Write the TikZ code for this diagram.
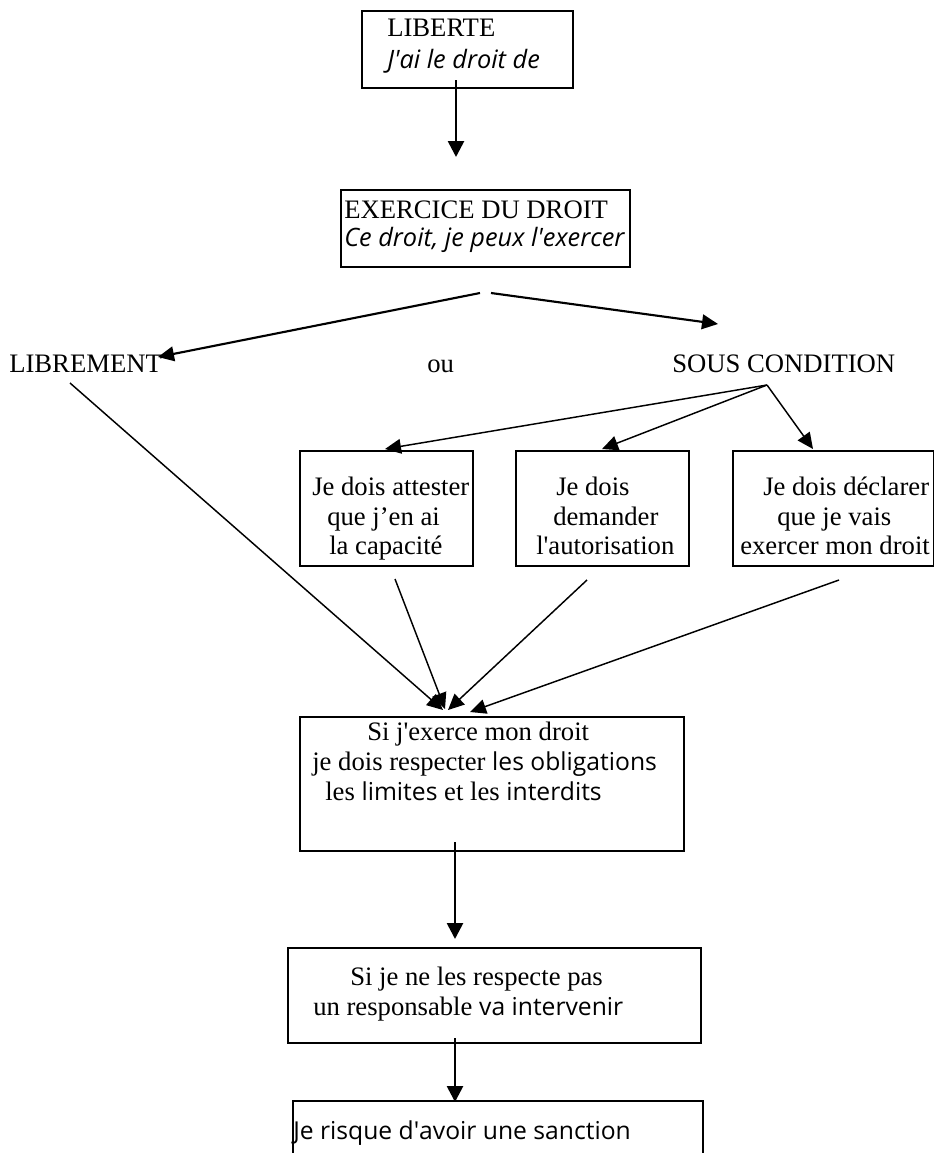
\documentclass[tikz,border=0pt]{standalone}
\usepackage{fontspec}
\setmainfont{Liberation Serif}
\newfontfamily\thinsans{Open Sans}
\usetikzlibrary{arrows.meta}
\tikzset{
  box/.style={draw=black, line width=1.5pt, anchor=north west, inner sep=0pt},
  txt/.style={anchor=base west, inner sep=0pt, font=\fontsize{20}{22}\selectfont},
  thick arrow/.style={line width=2pt, -{Triangle[length=12pt,width=12pt]}},
  mid arrow/.style={line width=1.6pt, -{Triangle[length=12pt,width=11pt]}},
  thin arrow/.style={line width=1.1pt, -{Triangle[length=12pt,width=11pt]}},
}
\newcommand{\lt}[1]{{\thinsans\fontsize{18.5}{22}\selectfont #1}}
\newcommand{\lit}[1]{{\thinsans\itshape\fontsize{19}{22}\selectfont #1}}
\newcommand{\sq}{\textquotesingle}
\begin{document}
\begin{tikzpicture}[x=0.75pt,y=-0.75pt]
\useasboundingbox (0,0) rectangle (934,1153);
% boxes
\node[box, minimum width=211*0.75pt, minimum height=77*0.75pt] (b1) at (361,10) {};
\node[box, minimum width=289*0.75pt, minimum height=77*0.75pt] (b2) at (340,189) {};
\node[box, minimum width=173*0.75pt, minimum height=115*0.75pt] (bA) at (299,450) {};
\node[box, minimum width=173*0.75pt, minimum height=115*0.75pt] (bB) at (515,450) {};
\node[box, minimum width=201*0.75pt, minimum height=115*0.75pt] (bC) at (732,450) {};
\node[box, minimum width=384*0.75pt, minimum height=134*0.75pt] (bD) at (299,716) {};
\node[box, minimum width=413*0.75pt, minimum height=95*0.75pt] (bE) at (287,947) {};
\node[box, minimum width=410*0.75pt, minimum height=80*0.75pt] (bF) at (292,1100) {};
% texts
\node[txt] (t1a) at (387,36) {LIBERTE};
\node[txt] (t1b) at (387,68) {\lit{J\sq ai le droit de}};
\node[txt] (t2a) at (344,218) {EXERCICE DU DROIT};
\node[txt] (t2b) at (344,246) {\lit{Ce droit, je peux l\sq exercer}};
\node[txt] (lib) at (9,372) {LIBREMENT};
\node[txt] (ou) at (427,372) {ou};
\node[txt] (sc) at (672,372) {SOUS CONDITION};
\node[txt] (tA1) at (312,495) {Je dois attester};
\node[txt] (tA2) at (327,525) {que j’en ai};
\node[txt] (tA3) at (329,554) {la capacité};
\node[txt] (tB1) at (556,495) {Je dois};
\node[txt] (tB2) at (553,525) {demander};
\node[txt] (tB3) at (536,554) {l\sq autorisation};
\node[txt] (tC1) at (763,495) {Je dois déclarer};
\node[txt] (tC2) at (777,525) {que je vais};
\node[txt] (tC3) at (740,554) {exercer mon droit};
\node[txt] (tD1) at (367,740) {Si j\sq exerce mon droit};
\node[txt] (tD2) at (312,770) {je dois respecter \lt{les obligations}};
\node[txt] (tD3) at (325,800) {les \lt{limites} et les \lt{interdits}};
\node[txt] (tE1) at (350,985) {Si je ne les respecte pas};
\node[txt] (tE2) at (313,1015) {un responsable \lt{va intervenir}};
\node[txt] (tF1) at (293,1139) {\lt{Je risque d\sq avoir une sanction}};
% connector end points
\coordinate (a1s) at (456,80);   \coordinate (a1e) at (456,157);
\coordinate (ls) at (480,293);   \coordinate (le) at (158,357);
\coordinate (rs) at (491,293);   \coordinate (re) at (718,324);
\coordinate (apex) at (767,385);
\coordinate (tipA) at (385,449); \coordinate (tipB) at (602,449); \coordinate (tipC) at (813,449);
\coordinate (libs) at (70,383);  \coordinate (libe) at (443,710);
\coordinate (As) at (395,579);   \coordinate (Ae) at (445,709);
\coordinate (Bs) at (587,580);   \coordinate (Be) at (448,710);
\coordinate (Cs) at (839,580);   \coordinate (Ce) at (470,712);
\coordinate (ds) at (455,842);   \coordinate (de) at (455,939);
\coordinate (es) at (455,1038);  \coordinate (ee) at (455,1102);
% connectors
\draw[thick arrow] (a1s) -- (a1e);
\draw[mid arrow] (ls) -- (le);
\draw[mid arrow] (rs) -- (re);
\draw[thin arrow] (apex) -- (tipA);
\draw[thin arrow] (apex) -- (tipB);
\draw[thin arrow] (apex) -- (tipC);
\draw[thin arrow] (libs) -- (libe);
\draw[thin arrow] (As) -- (Ae);
\draw[thin arrow] (Bs) -- (Be);
\draw[thin arrow] (Cs) -- (Ce);
\draw[thick arrow] (ds) -- (de);
\draw[thick arrow] (es) -- (ee);
\end{tikzpicture}
\end{document}
